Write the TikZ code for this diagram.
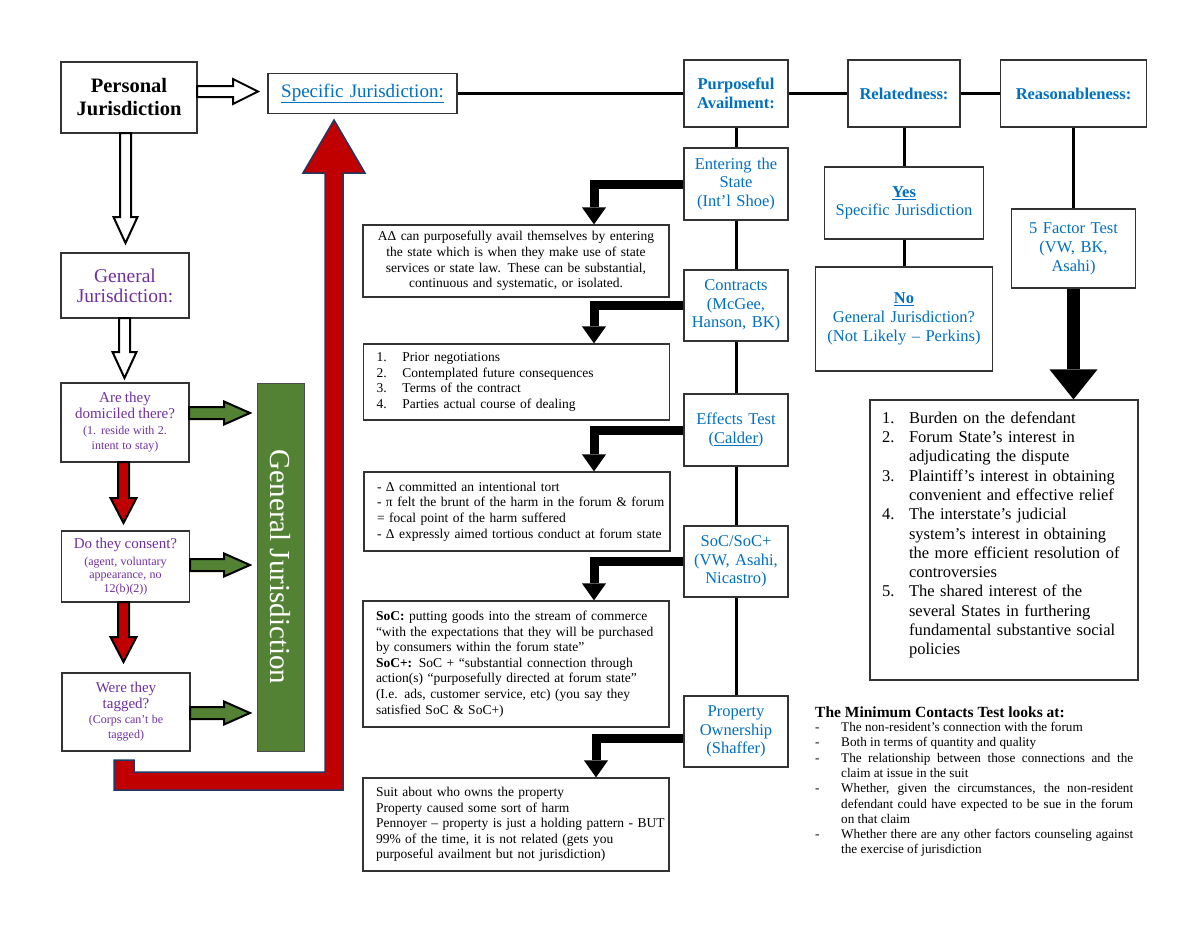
\documentclass[tikz,border=0pt]{standalone}
\usepackage{fontspec}
\setmainfont{Liberation Serif}
\usetikzlibrary{arrows.meta,calc}
\definecolor{cblue}{HTML}{0070C0}
\definecolor{cpurple}{HTML}{7030A0}
\definecolor{cred}{HTML}{C00000}
\definecolor{cgreen}{HTML}{548235}
\definecolor{cnavy}{HTML}{203864}
\newcommand{\myfs}[2]{\fontsize{#1pt}{#2pt}\selectfont}
\newcommand{\hblock}[7]{\draw[#7] (#1,#3-#4) -- (#2-#6,#3-#4) -- (#2-#6,#3-#5) -- (#2,#3) -- (#2-#6,#3+#5) -- (#2-#6,#3+#4) -- (#1,#3+#4) -- cycle;}
\newcommand{\vblock}[7]{\draw[#7] (#1-#4,#2) -- (#1-#4,#3-#6) -- (#1-#5,#3-#6) -- (#1,#3) -- (#1+#5,#3-#6) -- (#1+#4,#3-#6) -- (#1+#4,#2) -- cycle;}
\newcommand{\itm}[2]{\leavevmode\llap{\makebox[#1][l]{#2}}}
\begin{document}
\begin{tikzpicture}[x=1pt,y=-1pt,
  box/.style={draw=black!80, line width=1.2pt, fill=white, inner sep=0pt, align=center},
  bx/.style 2 args={box, text width=#1pt, minimum height=#2pt},
  conn/.style={line width=3pt},
  barrow/.style={line width=9pt, -{Triangle[width=24pt,length=17pt,line width=0pt]}},
  hollow/.style={draw=black, line width=2pt, fill=white, line join=miter},
  redarr/.style={draw=black, line width=2pt, fill=cred, line join=miter},
  greenarr/.style={draw=black, line width=2pt, fill=cgreen, line join=miter},
  mid/.style={bx={104}{71}, text=cblue, font=\myfs{16.5}{18.5}},
  qbox/.style={bx={128}{#1}, text=cpurple},
  tbox/.style={box, text width=306pt, minimum height=#1pt, font=\myfs{13.5}{15.6}},
]
\useasboundingbox (0,0) rectangle (1200,927);
\fill[white] (0,0) rectangle (1200,927);

% ---------- left column ----------
\node[bx={136}{71}, font=\bfseries\myfs{20.5}{23}] (pj) at (129,97.5) {Personal\\Jurisdiction};
\node[bx={189}{40}, text=cblue, font=\myfs{19}{22}] (sj) at (362.5,93.5) {\underline{Specific Jurisdiction:}};
\node[bx={128}{65}, text=cpurple, font=\myfs{19.5}{20}] (gj) at (125,285.5) {General\\Jurisdiction:};
\node[qbox=79] (q1) at (125,422.5) {{\myfs{15}{16}Are they\\domiciled there?\par}{\myfs{12}{15.5}(1. reside with 2.\\intent to stay)\par}};
\node[qbox=71] (q2) at (125.5,566.5) {{\myfs{15}{17}Do they consent?\par}\vspace{3pt}{\myfs{12}{13.5}(agent, voluntary\\appearance, no\\12(b)(2))\par}};
\node[qbox=78] (q3) at (126,712) {{\myfs{15}{16}Were they\\tagged?\par}{\myfs{12}{15}(Corps can’t be\\tagged)\par}};
\node[fill=cgreen, draw=black!70, line width=1pt, rotate=-90, minimum width=368pt, minimum height=47pt, inner sep=0pt, text=white, font=\myfs{29}{32}] (gr) at (280.5,567) {General Jurisdiction};

\hblock{197}{258}{91.5}{5.5}{12.5}{25}{hollow}
\vblock{125.5}{133}{243}{5.5}{12}{26}{hollow}
\vblock{124.5}{318}{378}{5.5}{12}{26}{hollow}
\vblock{123.5}{462}{523}{5.5}{13}{25}{redarr}
\vblock{123.5}{602}{662}{5.5}{13}{25}{redarr}
\hblock{189}{250}{413}{6}{11.5}{26}{greenarr}
\hblock{190}{250}{565}{6}{11.5}{26}{greenarr}
\hblock{190}{250}{713}{6}{11.5}{26}{greenarr}

\draw[fill=cred, draw=cnavy, line width=1.5pt, line join=miter] (114,760) -- (134,760) -- (134,772) -- (325,772) -- (325,173) -- (303,173) -- (334,120) -- (365,173) -- (343,173) -- (343,790) -- (114,790) -- cycle;

% ---------- top row ----------
\node[bx={104}{67}, text=cblue, font=\bfseries\myfs{16.5}{19}] (pa) at (736,93.5) {Purposeful\\Availment:};
\node[bx={112}{67}, text=cblue, font=\bfseries\myfs{16.5}{19}] (rel) at (904,93.5) {Relatedness:};
\node[bx={146}{67}, text=cblue, font=\bfseries\myfs{16.5}{19}] (rea) at (1073.5,93.5) {Reasonableness:};
\draw[conn] (sj.east) -- (pa.west);
\draw[conn] (pa.east) -- (rel.west);
\draw[conn] (rel.east) -- (rea.west);

% ---------- middle column ----------
\node[mid, minimum height=72pt] (ent) at (736,184) {Entering the\\State\\(Int’l Shoe)};
\node[mid] (con) at (736,305.5) {Contracts\\(McGee,\\Hanson, BK)};
\node[mid, minimum height=72pt] (eff) at (736,430) {Effects Test\\(\underline{Calder})};
\node[mid] (soc) at (736,561.5) {SoC/SoC+\\(VW, Asahi,\\Nicastro)};
\node[mid] (pro) at (736,731.5) {Property\\Ownership\\(Shaffer)};
\draw[conn] (pa.south) -- (ent.north) (ent.south) -- (con.north) (con.south) -- (eff.north) (eff.south) -- (soc.north) (soc.south) -- (pro.north);

\node[tbox=72] (t1) at (516,261) {AΔ can purposefully avail themselves by entering\\the state which is when they make use of state\\services or state law. These can be substantial,\\continuous and systematic, or isolated.};
\node[tbox=76, align=left] (t2) at (516.5,382) {\leftskip=13pt\relax
\makebox[26pt][l]{1.}Prior negotiations\\
\makebox[26pt][l]{2.}Contemplated future consequences\\
\makebox[26pt][l]{3.}Terms of the contract\\
\makebox[26pt][l]{4.}Parties actual course of dealing\par};
\node[tbox=79, align=left] (t3) at (517,511.5) {\leftskip=13pt\relax
- Δ committed an intentional tort\\
- π felt the brunt of the harm in the forum \& forum\\
= focal point of the harm suffered\\
- Δ expressly aimed tortious conduct at forum state\par};
\node[tbox=126, align=left] (t4) at (516,664) {\leftskip=13pt\relax
\textbf{SoC:} putting goods into the stream of commerce\\
“with the expectations that they will be purchased\\
by consumers within the forum state”\\
\textbf{SoC+:} SoC + “substantial connection through\\
action(s) “purposefully directed at forum state”\\
(I.e. ads, customer service, etc) (you say they\\
satisfied SoC \& SoC+)\par};
\node[tbox=93, align=left] (t5) at (516,824.5) {\leftskip=13pt\relax
Suit about who owns the property\\
Property caused some sort of harm\\
Pennoyer – property is just a holding pattern - BUT\\
99\% of the time, it is not related (gets you\\
purposeful availment but not jurisdiction)\par};

\draw[barrow] (ent.west) -| ($(t1.north)+(78,0)$);
\draw[barrow] (con.west) -| ($(t2.north)+(77.5,0)$);
\draw[barrow] (eff.west) -| ($(t3.north)+(77,0)$);
\draw[barrow] (soc.west) -| ($(t4.north)+(78,0)$);
\draw[barrow] ($(pro.west)+(0,7)$) -| ($(t5.north)+(80,0)$);

% ---------- right column ----------
\node[bx={159}{72}, text=cblue, font=\myfs{16.5}{18}] (yes) at (904,203) {\textbf{\underline{Yes}}\\Specific Jurisdiction};
\node[bx={177}{104}, text=cblue, font=\myfs{16.5}{19}] (no) at (904,319) {\textbf{\underline{No}}\\General Jurisdiction?\\(Not Likely – Perkins)};
\node[bx={124}{79}, text=cblue, font=\myfs{16.5}{19}] (fac) at (1073.5,248.5) {5 Factor Test\\(VW, BK,\\Asahi)};
\draw[conn] (rel.south) -- (yes.north) (yes.south) -- (no.north) (rea.south) -- (fac.north);

\node[box, minimum width=268pt, minimum height=280pt] (lst) at (1004,540) {};
\draw[line width=13pt, -{Triangle[width=48pt,length=30pt,line width=0pt]}] (fac.south) -- (fac.south |- lst.north);
\node[text width=268pt, align=left, inner sep=0pt, font=\myfs{16.5}{19.3}] (lsttx) at ($(lst.center)+(0,-5)$) {\leftskip=39pt\relax
\itm{27pt}{1.}Burden on the defendant\\
\itm{27pt}{2.}Forum State’s interest in\\
adjudicating the dispute\\
\itm{27pt}{3.}Plaintiff’s interest in obtaining\\
convenient and effective relief\\
\itm{27pt}{4.}The interstate’s judicial\\
system’s interest in obtaining\\
the more efficient resolution of\\
controversies\\
\itm{27pt}{5.}The shared interest of the\\
several States in furthering\\
fundamental substantive social\\
policies\par};

\node[anchor=west, font=\bfseries\myfs{15.5}{18}, inner sep=0pt] (mct) at (815,712) {The Minimum Contacts Test looks at:};
\node[anchor=north west, inner sep=0pt, text width=318pt, align=justify, font=\myfs{13.2}{15.3}] (mcl) at (815,722) {\leftskip=26pt\relax\parindent=0pt
\itm{26pt}{-}The non-resident’s connection with the forum\par
\itm{26pt}{-}Both in terms of quantity and quality\par
\itm{26pt}{-}The relationship between those connections and the\linebreak claim at issue in the suit\par
\itm{26pt}{-}Whether, given the circumstances, the non-resident\linebreak defendant could have expected to be sue in the forum\linebreak on that claim\par
\itm{26pt}{-}Whether there are any other factors counseling against\linebreak the exercise of jurisdiction\par};
\end{tikzpicture}
\end{document}
